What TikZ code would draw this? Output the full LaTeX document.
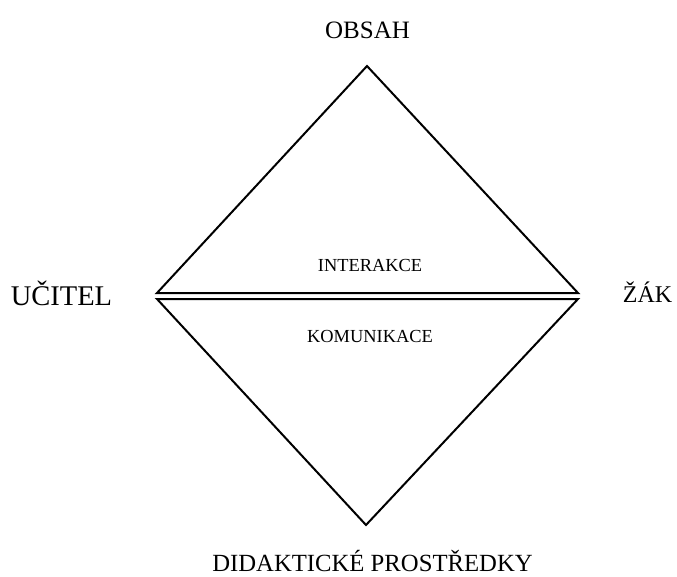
\documentclass[tikz,border=0pt]{standalone}
\usepackage{fontspec}
\setmainfont{Liberation Serif}
\begin{document}
\begin{tikzpicture}[x=1pt,y=-1pt,
  edge/.style={line width=2pt,line join=miter},
  lbl/.style={inner sep=0pt,anchor=base}]
\useasboundingbox (0,0) rectangle (677,576);
\coordinate (top) at (367,66);
\coordinate (ul) at (157,293);
\coordinate (ur) at (578,293);
\coordinate (ll) at (157,299);
\coordinate (lr) at (578,299);
\coordinate (bot) at (366,525);
\draw[edge] (top) -- (ur) -- (ul) -- cycle;
\draw[edge] (ll) -- (lr) -- (bot) -- cycle;
\node[lbl,font=\fontsize{25}{25}\selectfont] (obsah) at (367.5,38) {OBSAH};
\node[lbl,font=\fontsize{28.5}{28.5}\selectfont] (ucitel) at (61.5,305) {UČITEL};
\node[lbl,font=\fontsize{24}{24}\selectfont] (zak) at (647.5,302) {ŽÁK};
\node[lbl,font=\fontsize{24.7}{24.7}\selectfont] (dp) at (372.5,571) {DIDAKTICKÉ PROSTŘEDKY};
\node[lbl,font=\fontsize{18.4}{18.4}\selectfont] (inter) at (370,271) {INTERAKCE};
\node[lbl,font=\fontsize{18.4}{18.4}\selectfont] (komu) at (370,342) {KOMUNIKACE};
\end{tikzpicture}
\end{document}
